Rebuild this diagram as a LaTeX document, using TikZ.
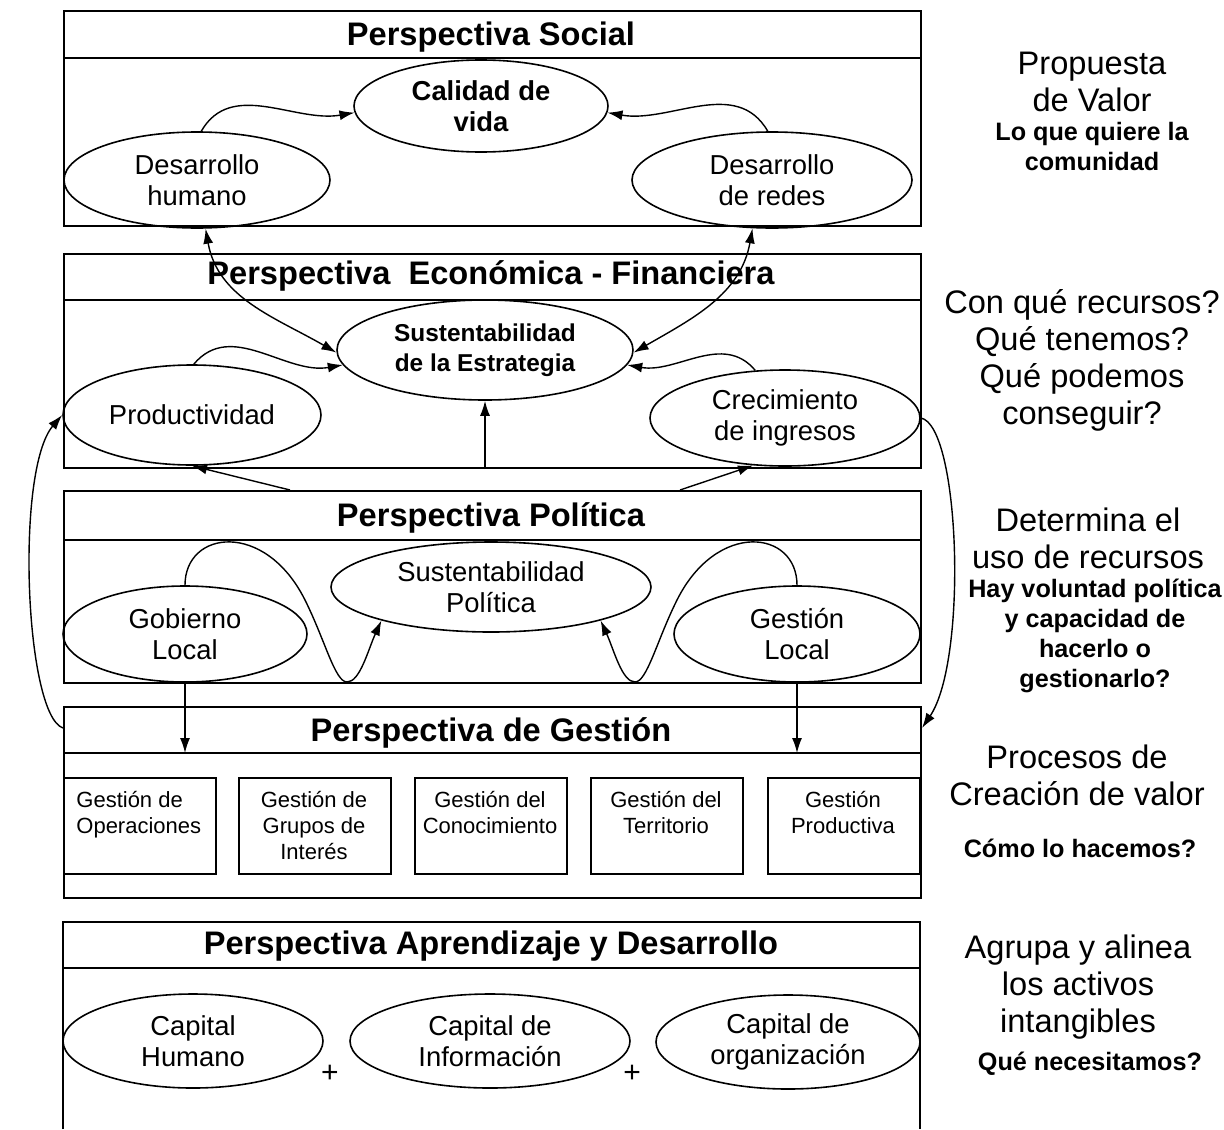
\documentclass[tikz,border=0pt]{standalone}
\usepackage{fontspec}
\setmainfont{Liberation Sans}
\usetikzlibrary{shapes.geometric, arrows.meta}

\begin{document}
\begin{tikzpicture}[x=0.5pt, y=-0.5pt,
    frame/.style={draw, line width=1pt},
    panel/.style={frame, anchor=north west, inner sep=0pt, minimum width=428.5pt},
    ttl/.style={anchor=base, inner sep=0pt, font=\fontsize{16.3}{18.5}\selectfont\bfseries},
    elip/.style={ellipse, draw, line width=0.8pt, inner sep=0pt, align=center, font=\fontsize{13.7}{15.5}\selectfont},
    subbox/.style={draw, line width=0.8pt, anchor=north west, inner sep=0pt, minimum width=76pt, minimum height=48pt},
    gtxt/.style={anchor=base, inner sep=0pt, align=center, font=\fontsize{11}{13}\selectfont},
    side/.style={anchor=base, inner sep=0pt, align=center, font=\fontsize{16.3}{18.5}\selectfont},
    sideq/.style={anchor=base, inner sep=0pt, align=center, font=\fontsize{12.6}{15}\selectfont\bfseries},
    arr/.style={line width=0.7pt, -{Latex[length=7.5pt,width=5pt]}},
    darr/.style={line width=0.7pt, {Latex[length=7.5pt,width=5pt]}-{Latex[length=7.5pt,width=5pt]}}]

    \useasboundingbox (0,0) rectangle (1224,1129);

    % draw panels
    \node[panel, minimum height=107.5pt] (social) at (63,10) {};
    \node[panel, minimum height=107pt] (econ) at (63,253) {};
    \node[panel, minimum height=96pt] (poli) at (63,490) {};
    \node[panel, minimum height=95.5pt] (gest) at (63,706) {};
    \draw[frame] (63,1129) |- (920,922) -- (920,1129);
    \foreach \y in {58, 300, 540, 753, 968}
        \draw[frame] (63,\y) -- (920,\y);
    \coordinate (gsep) at (63,753);

    % draw titles
    \foreach \n/\y/\t in {ts/46/Perspectiva Social, te/284/{Perspectiva\ \ Económica - Financiera},
        tp/526/Perspectiva Política, tg/741/Perspectiva de Gestión, ta/954/Perspectiva Aprendizaje y Desarrollo}
        \node[ttl] (\n) at (491,\y) {\t};

    % draw ellipses
    \node[elip, font=\fontsize{13.7}{15.5}\selectfont\bfseries, minimum width=127pt, minimum height=46pt]
        (cv) at (481,106) {Calidad de\\vida};
    \node[elip, font=\fontsize{12.2}{15}\selectfont\bfseries, minimum width=148pt, minimum height=50pt]
        (se) at (485,350) {Sustentabilidad\\de la Estrategia};
    \foreach \n/\x/\y/\w/\h/\t in {dh/197/180/133/48/{Desarrollo\\humano}, dr/772/180/140/48/{Desarrollo\\de redes},
        pr/192/415/129/50/Productividad, ci/785/418/135/48/{Crecimiento\\de ingresos},
        sp/491/587/160/45/{Sustentabilidad\\Política}, gl/185/634/122/48/{Gobierno\\Local}, gsl/797/634/123/48/{Gestión\\Local},
        ch/193/1041/130/47/{Capital\\Humano}, cin/490/1041/140/47/{Capital de\\Información}, co/788/1042/132/47/{Capital de\\organización}}
        \node[elip, minimum width=\w pt, minimum height=\h pt] (\n) at (\x,\y) {\t};

    % draw process boxes (base = last line)
    \foreach \n/\x in {1/63, 2/238, 3/414, 4/590, 5/767}
        \node[subbox] (g\n) at (\x,777) {};
    \node[gtxt, anchor=base west, align=left] (gt1) at (76,833) {Gestión de\\Operaciones};
    \foreach \n/\x/\y/\t in {2/314/859/{Gestión de\\Grupos de\\Interés}, 3/490/833/{Gestión del\\Conocimiento},
        4/666/833/{Gestión del\\Territorio}, 5/843/833/{Gestión\\Productiva}}
        \node[gtxt] (gt\n) at (\x,\y) {\t};

    % plus signs
    \node[font=\fontsize{15}{17}\selectfont, inner sep=0pt] (p1) at (330,1074) {+};
    \node[font=\fontsize{15}{17}\selectfont, inner sep=0pt] (p2) at (632,1074) {+};

    % side notes
    \node[side] (pv) at (1092,112) {Propuesta\\de Valor};
    \node[sideq] (pvq) at (1092,170) {Lo que quiere la\\comunidad};
    \node[side] (rec) at (1082,424) {Con qué recursos?\\Qué tenemos?\\Qué podemos\\conseguir?};
    \node[side] (det) at (1088,568) {Determina el\\uso de recursos};
    \node[sideq] (detq) at (1095,687) {Hay voluntad política\\y capacidad de\\hacerlo o\\gestionarlo?};
    \node[side] (proc) at (1077,805) {Procesos de\\Creación de valor};
    \node[sideq] (procq) at (1080,857) {Cómo lo hacemos?};
    \node[side] (agr) at (1078,1032) {Agrupa y alinea\\los activos\\intangibles};
    \node[sideq] (agrq) at (1090,1070) {Qué necesitamos?};

    % draw edges
    \draw[arr] (dh.85) to[out=60, in=190] (cv.183);
    \draw[arr] (dr.95) to[out=120, in=-10] (cv.357);
    \draw[darr] (dh.280) to[out=-80, in=150] (se.181);
    \draw[darr] (dr.248) to[out=-100, in=30] (se.359);
    \draw[arr] (pr.88) to[out=50, in=190] (se.186);
    \draw[arr] (ci.122) to[out=130, in=-10] (se.354);
    \draw[arr] (se.south |- econ.south) -- (se.south);
    \draw[arr] ([xshift=113.5pt]poli.north west) -- (pr.south);
    \draw[arr] ([xshift=-121pt]poli.north east) -- (ci.236);
    \draw[arr] (gl.north) .. controls (185,530) and (265,520) .. (305,600)
        .. controls (325,640) and (335,682) .. (347,682)
        .. controls (360,682) and (368,650) .. (sp.197);
    \draw[arr] (gsl.north) .. controls (797,530) and (717,520) .. (677,600)
        .. controls (657,640) and (647,682) .. (635,682)
        .. controls (622,682) and (614,650) .. (sp.343);
    \draw[arr] (gl.south) -- (gl.south |- gsep);
    \draw[arr] (gsl.south) -- (gsl.south |- gsep);
    \draw[arr] ([yshift=-11pt]gest.north west) .. controls (25,715) and (15,470) .. (pr.west);
    \draw[arr] (ci.east) .. controls (960,425) and (968,660) .. ([yshift=-11pt]gest.north east);

\end{tikzpicture}
\end{document}
